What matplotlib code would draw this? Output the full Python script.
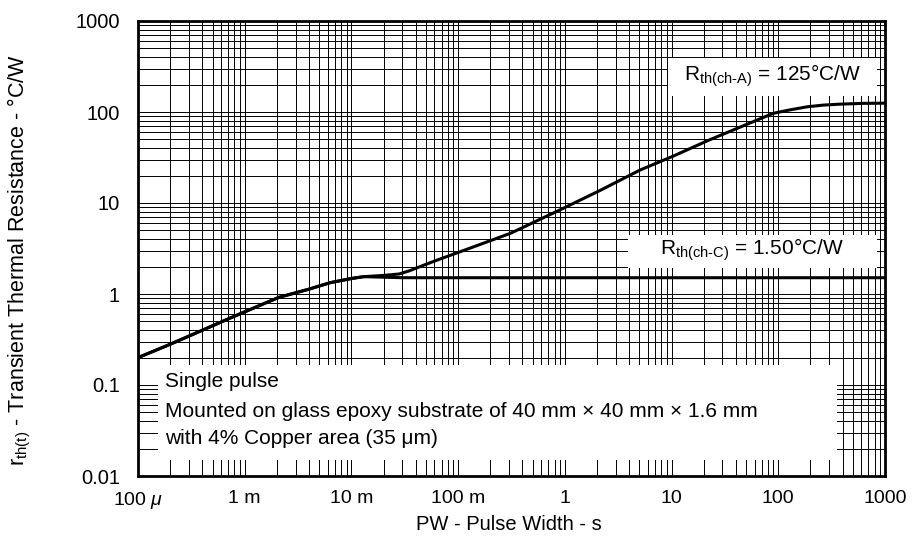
import matplotlib
matplotlib.use("Agg")
import matplotlib.pyplot as plt
import numpy as np
from matplotlib.ticker import LogLocator, FixedLocator, NullFormatter
from matplotlib.patches import Rectangle

plt.rcParams['font.family'] = ['Liberation Sans', 'DejaVu Sans']
plt.rcParams['mathtext.fontset'] = 'custom'
plt.rcParams['mathtext.rm'] = 'Liberation Sans'
plt.rcParams['mathtext.it'] = 'Liberation Sans:italic'
plt.rcParams['mathtext.bf'] = 'Liberation Sans:bold'

# pulse width (s) and transient thermal resistance (C/W)
pw_a = [1e-4, 2e-4, 7.2e-4, 1.5e-3, 2.1e-3, 4e-3, 6.3e-3, 1e-2, 1.3e-2, 2.0e-2, 2.8e-2,
        3.5e-2, 4.4e-2, 6.3e-2, 0.105, 0.31, 0.9, 2.1, 5.1, 10.4, 21.4, 43.6,
        90, 126, 186, 263, 380, 630, 1000]
rth_a = [0.20, 0.28, 0.54, 0.78, 0.92, 1.13, 1.33, 1.48, 1.55, 1.6, 1.66,
         1.8, 2.0, 2.35, 2.92, 4.65, 8.4, 13.6, 23.1, 32.8, 48, 68,
         96.8, 105, 114, 119, 122, 124.5, 125]

pw_c = [1e-4, 2e-4, 7.2e-4, 1.5e-3, 2.1e-3, 4e-3, 6.3e-3, 1e-2, 1.3e-2, 2.0e-2, 3.0e-2, 1000]
rth_c = [0.20, 0.28, 0.54, 0.78, 0.92, 1.13, 1.33, 1.48, 1.55, 1.53, 1.51, 1.51]

xticks = [1e-4, 1e-3, 1e-2, 1e-1, 1, 10, 100, 1000]
xlabels = ["100 $\\mu$", "1 m", "10 m", "100 m", "1", "10", "100", "1000"]
yticks = [0.01, 0.1, 1, 10, 100, 1000]
ylabels = ["0.01", "0.1", "1", "10", "100", "1000"]

fig = plt.figure(figsize=(9.21, 5.5), dpi=100)
ax = fig.add_axes([138 / 921, 1 - 476 / 550, 747 / 921, 455 / 550])
ax.set_xscale("log")
ax.set_yscale("log")
ax.set_xlim(1e-4, 1000)
ax.set_ylim(0.01, 1000)

ax.xaxis.set_major_locator(FixedLocator(xticks))
ax.yaxis.set_major_locator(FixedLocator(yticks))
ax.set_xticklabels(xlabels, fontsize=14)
ax.set_yticklabels(ylabels, fontsize=14.5)
ax.xaxis.set_minor_locator(LogLocator(base=10, subs=np.arange(2, 10), numticks=100))
ax.yaxis.set_minor_locator(LogLocator(base=10, subs=np.arange(2, 10), numticks=100))
ax.xaxis.set_minor_formatter(NullFormatter())
ax.yaxis.set_minor_formatter(NullFormatter())
ax.tick_params(which="both", length=0)
ax.tick_params(axis="x", pad=10)
ax.tick_params(axis="y", pad=13)

ax.grid(which="both", color="black", lw=0.7)
ax.set_axisbelow(True)
for s in ax.spines.values():
    s.set_linewidth(2)
    s.set_zorder(10)

ax.plot(pw_a, rth_a, color="black", lw=2.2, zorder=5)
ax.plot(pw_c, rth_c, color="black", lw=2.2, zorder=5)

# white label boxes
def box(x0, x1, y0, y1):
    ax.add_patch(Rectangle((x0, y0), x1 - x0, y1 - y0, transform=ax.transAxes,
                           facecolor="white", edgecolor="none", zorder=6))

box(0.7095, 0.989, 0.835, 0.919)
box(0.656, 0.989, 0.457, 0.530)
box(0.0268, 0.936, 0.035, 0.244)

ax.text(0.849, 0.879, "R$_\\text{th(ch-A)}$ = 125°C/W", transform=ax.transAxes,
        ha="center", va="center", fontsize=15, zorder=7)
ax.text(0.822, 0.497, "R$_\\text{th(ch-C)}$ = 1.50°C/W", transform=ax.transAxes,
        ha="center", va="center", fontsize=15, zorder=7)

ax.text(0.036, 0.207, "Single pulse", transform=ax.transAxes,
        ha="left", va="center", fontsize=15, zorder=7)
ax.text(0.036, 0.142, "Mounted on glass epoxy substrate of 40 mm × 40 mm × 1.6 mm",
        transform=ax.transAxes, ha="left", va="center", fontsize=15, zorder=7)
ax.text(0.036, 0.0835, "with 4% Copper area (35 μm)", transform=ax.transAxes,
        ha="left", va="center", fontsize=15, zorder=7)

fig.text(509 / 921, 1 - 525 / 550, "PW - Pulse Width - s", ha="center", va="center",
         fontsize=14.5)
fig.text(19 / 921, 1 - 260 / 550, "r$_\\text{th(t)}$ - Transient Thermal Resistance - °C/W",
         ha="center", va="center", rotation=90, fontsize=15.5)

fig.savefig("out.png", dpi=100)
